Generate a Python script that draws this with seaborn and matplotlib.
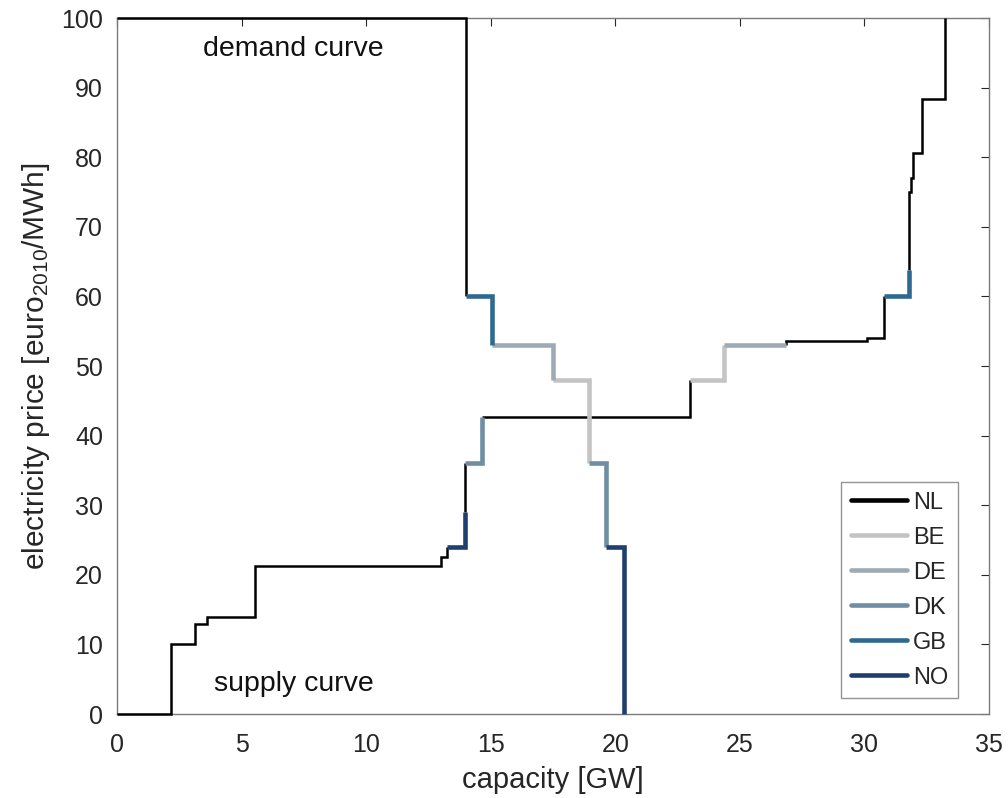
import numpy as np
import pandas as pd
import matplotlib
matplotlib.use("Agg")
import matplotlib.pyplot as plt
from matplotlib.lines import Line2D
import seaborn as sns

# ---- data ----
countries = ["NL", "BE", "DE", "DK", "GB", "NO"]
colors = ["#000000", "#c4c4c4", "#9eabb4", "#6f8ea3", "#2f6890", "#203f6e"]
widths = [1.8, 3.3, 3.3, 3.3, 3.3, 3.3]

# supply curve vertices, and country owning each edge (edge i: vertex i -> i+1)
supply_x = [0, 2.15, 2.15, 3.15, 3.15, 3.62, 3.62, 5.52, 5.52, 13.0, 13.0, 13.24, 13.24,
            13.95, 13.95, 13.95, 14.67, 14.67, 22.98, 22.98, 24.38, 24.38, 26.87,
            26.87, 30.1, 30.1, 30.77, 30.77, 31.78, 31.78, 31.78, 31.85, 31.85,
            31.94, 31.94, 32.32, 32.32, 33.23, 33.23]
supply_y = [0, 0, 10, 10, 13, 13, 14, 14, 21.2, 21.2, 22.6, 22.6, 24,
            24, 29, 36, 36, 42.7, 42.7, 48, 48, 53, 53,
            53.6, 53.6, 54.0, 54.0, 60, 60, 63.8, 75, 75, 77,
            77, 80.6, 80.6, 88.4, 88.4, 100]
supply_country = ["NL"] * 12 + ["NO", "NO", "NL", "DK", "DK", "NL", "NL", "BE", "BE", "DE",
                                "NL", "NL", "NL", "NL", "NL", "GB", "GB", "NL", "NL", "NL",
                                "NL", "NL", "NL", "NL", "NL", "NL"]

demand_x = [0, 14.02, 14.02, 15.05, 15.05, 17.52, 17.52, 18.93, 18.93, 19.62, 19.62, 20.33, 20.33]
demand_y = [100, 100, 60, 60, 53, 53, 48, 48, 36, 36, 24, 24, 0]
demand_country = ["NL", "NL", "GB", "GB", "DE", "DE", "BE", "BE", "DK", "DK", "NO", "NO"]


def to_segments(xs, ys, owners, tag):
    rows = []
    seg = 0
    prev = None
    for i, c in enumerate(owners):
        if c != prev:
            seg += 1
            rows.append(dict(x=xs[i], y=ys[i], country=c, seg=f"{tag}{seg}"))
        rows.append(dict(x=xs[i + 1], y=ys[i + 1], country=c, seg=f"{tag}{seg}"))
        prev = c
    return rows


df = pd.DataFrame(to_segments(supply_x, supply_y, supply_country, "s")
                  + to_segments(demand_x, demand_y, demand_country, "d"))

sns.set_theme(style="white")
plt.rcParams["font.family"] = ["Liberation Sans", "DejaVu Sans"]
plt.rcParams["mathtext.default"] = "regular"

fig = plt.figure(figsize=(10.08, 7.98), dpi=100)
ax = fig.add_axes([117 / 1008, 1 - 714 / 798, (989 - 117) / 1008, (714 - 18) / 798])

palette = dict(zip(countries, colors))
sizes = dict(zip(countries, widths))
sns.lineplot(data=df, x="x", y="y", hue="country", size="country", units="seg",
             estimator=None, sort=False, palette=palette, sizes=sizes,
             hue_order=countries, size_order=countries, legend=False, ax=ax)
for ln in ax.lines:
    is_black = matplotlib.colors.to_hex(ln.get_color()) == "#000000"
    ln.set_zorder(2.6 if is_black else 3)
    ln.set_clip_on(False)
    ln.set_solid_capstyle("butt")
    ln.set_solid_joinstyle("miter")

ax.set_xlim(0, 35)
ax.set_ylim(0, 100)
ax.set_xticks(np.arange(0, 36, 5))
ax.set_yticks(np.arange(0, 101, 10))
ax.tick_params(direction="in", top=True, right=True, length=6, width=0.8,
               labelsize=18, colors="#262626")
ax.tick_params(axis="x", pad=14)
ax.tick_params(axis="y", pad=10)
for sp in ax.spines.values():
    sp.set_color("#7a7a7a")
    sp.set_linewidth(1.0)

ax.set_xlabel("capacity [GW]", fontsize=21, color="#262626", labelpad=6)
ax.set_ylabel("electricity price [euro$_{2010}$/MWh]", fontsize=21.5, color="#262626", labelpad=7)

ax.text(7.07, 95.6, "demand curve", fontsize=20.5, ha="center", va="center", color="#111111")
ax.text(7.1, 4.3, "supply curve", fontsize=20.5, ha="center", va="center", color="#111111")

handles = [Line2D([0], [0], color=c, lw=3.3) for c in colors]
leg = ax.legend(handles, countries, loc="lower right", fontsize=17, frameon=True,
                fancybox=False, edgecolor="#7a7a7a", handlelength=2.4,
                labelspacing=0.55, borderpad=0.4, handletextpad=0.25,
                borderaxespad=0.0, bbox_to_anchor=(0.9644, 0.023))
leg.get_frame().set_linewidth(1.0)

fig.savefig("out.png", dpi=100, facecolor="white")
